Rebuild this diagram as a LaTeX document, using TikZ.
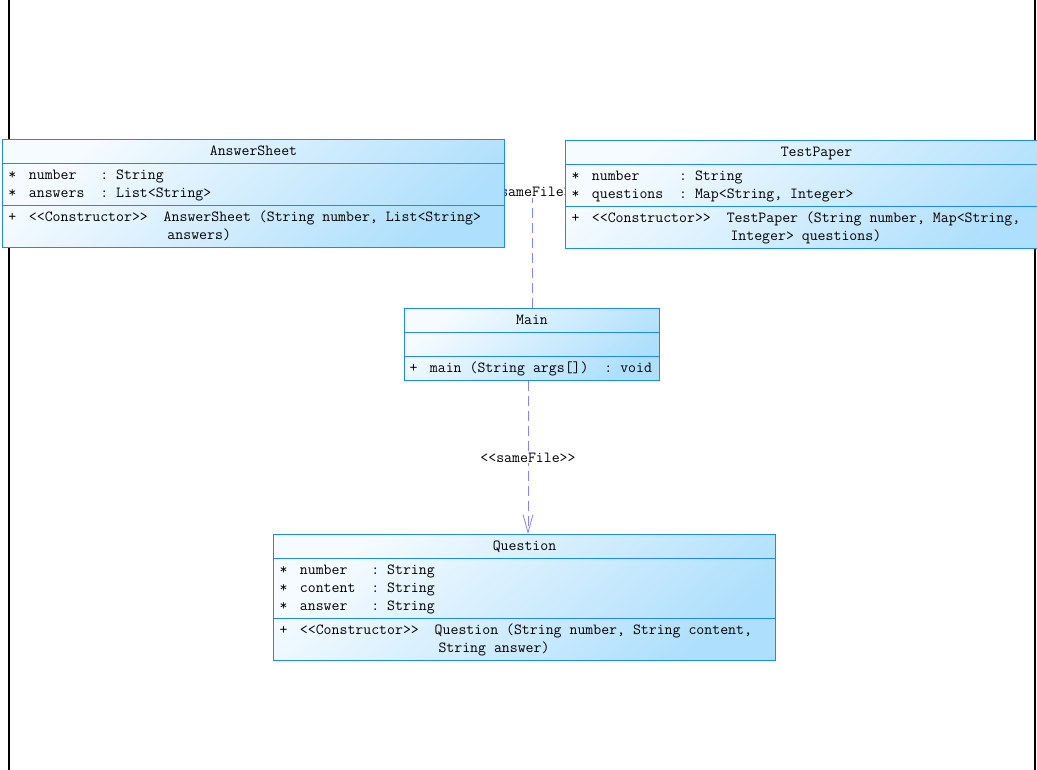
\documentclass[tikz,border=0pt]{standalone}
\usepackage{fontspec}
\usetikzlibrary{arrows.meta,positioning,shapes.multipart,backgrounds}
\definecolor{umlline}{HTML}{1E88FF}
\definecolor{umltop}{HTML}{F6FBFF}
\definecolor{umlbottom}{HTML}{AEDFFC}
\definecolor{deplink}{HTML}{8585FF}
\newcommand{\umlfont}{\ttfamily\fontsize{15.4}{18}\selectfont}
\newcommand{\gap}{\hbox to \fontcharwd\font`\M{}}
\newcommand{\lead}{\hspace*{12.5pt}}
\newcommand{\cname}[1]{\makebox[\linewidth]{\strut#1}}
\newcommand{\wrapind}{\hspace*{159pt}}

\begin{document}
\begin{tikzpicture}[x=1pt,y=-1pt,>={Straight Barb[length=18pt,width=10pt]}]
 \tikzstyle{umlclass}=[rectangle split,rectangle split parts=3,draw=umlline,line width=1pt,anchor=north west,inner xsep=6pt,inner ysep=2.5pt,font=\umlfont,top color=umltop,bottom color=umlbottom,shading angle=40]
 \tikzstyle{dependency}=[draw=deplink,line width=0.8pt,dash pattern=on 10pt off 5pt]
 \tikzstyle{deplabel}=[fill=white,inner sep=1pt,font=\umlfont,text=black]
 \useasboundingbox (0,0) rectangle (1037,770);
 \clip (0,0) rectangle (1037,770);
 % classes
 \node[umlclass,text width=490pt] (answersheet) at (2,139) {\cname{AnswerSheet}
  \nodepart{second}\strut{*}\lead number\gap\gap\gap:\gap String\\{*}\lead answers\gap\gap:\gap List<String>\strut
  \nodepart{third}\strut+\lead<<Constructor>>\gap\gap AnswerSheet\gap(String\gap number,\gap List<String>\\\wrapind answers)\strut};
 \node[umlclass,text width=490pt] (testpaper) at (565,140) {\cname{TestPaper}
  \nodepart{second}\strut{*}\lead number\gap\gap\gap\gap\gap:\gap String\\{*}\lead questions\gap\gap:\gap Map<String,\gap Integer>\strut
  \nodepart{third}\strut+\lead<<Constructor>>\gap\gap TestPaper\gap(String\gap number,\gap Map<String,\\\wrapind Integer>\gap questions)\strut};
 \node[umlclass,text width=245pt,inner xsep=5pt] (main) at (404,308) {\cname{Main}
  \nodepart{second}\strut
  \nodepart{third}\strut+\lead main\gap(String\gap args[])\gap\gap:\gap void\strut};
 \node[umlclass,text width=490pt] (question) at (273,534) {\cname{Question}
  \nodepart{second}\strut{*}\lead number\gap\gap\gap:\gap String\\{*}\lead content\gap\gap:\gap String\\{*}\lead answer\gap\gap\gap:\gap String\strut
  \nodepart{third}\strut+\lead<<Constructor>>\gap\gap Question\gap(String\gap number,\gap String\gap content,\\\wrapind String\gap answer)\strut};
 % links, kept behind the classes
 \begin{scope}[on background layer]
  \fill[white] (0,0) rectangle (1037,770);
  \draw[black,line width=1.2pt] (9,0) -- (9,770);
  \draw[black,line width=1.2pt] (1035,0) -- (1035,770);
  \coordinate (samefile-up) at ([yshift=116pt]main.north);
  \draw[dependency] (main.north) -- (samefile-up);
  \node[deplabel] (samefile-top) at (samefile-up) {<<sameFile>>};
  \coordinate (dep-start) at ([xshift=-4pt]main.south);
  \draw[dependency,->] (dep-start) -- node[deplabel] (samefile-low) {<<sameFile>>} (dep-start |- question.north);
 \end{scope}
\end{tikzpicture}
\end{document}
